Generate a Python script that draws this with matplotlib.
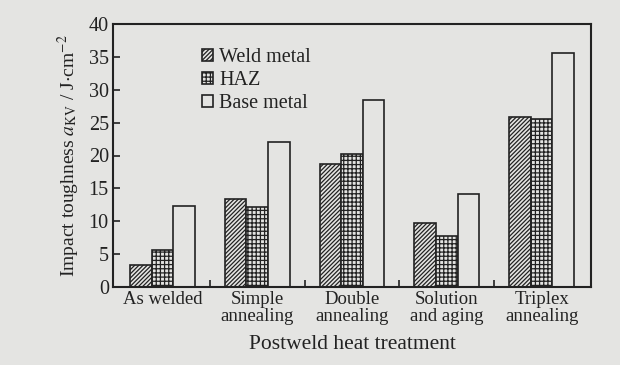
import matplotlib
matplotlib.use("Agg")
import matplotlib.pyplot as plt
import numpy as np

treatments = ["As welded", "Simple\nannealing", "Double\nannealing",
              "Solution\nand aging", "Triplex\nannealing"]
weld_metal = [3.3, 13.4, 18.7, 9.7, 25.9]
haz = [5.7, 12.2, 20.3, 7.8, 25.5]
base_metal = [12.3, 22.1, 28.4, 14.2, 35.6]

plt.rcParams['font.family'] = ['Liberation Serif', 'DejaVu Serif']
plt.rcParams['hatch.linewidth'] = 0.9
plt.rcParams['mathtext.fontset'] = 'stix'

bg = '#e4e4e2'
ink = '#222222'

fig = plt.figure(figsize=(6.2, 3.65), dpi=100, facecolor=bg)
ax = fig.add_axes([113/620, 1-287/365, (591-113)/620, (287-24)/365])
ax.set_facecolor(bg)

x = np.arange(len(treatments))
w = 0.228
ax.bar(x - w, weld_metal, w, facecolor=bg, edgecolor=ink, hatch='////////', lw=1.2, label='Weld metal')
ax.bar(x, haz, w, facecolor=bg, edgecolor=ink, hatch='++++', lw=1.2, label='HAZ')
ax.bar(x + w, base_metal, w, facecolor=bg, edgecolor=ink, lw=1.2, label='Base metal')

ax.set_xlim(-0.52, 4.52)
ax.set_ylim(0, 40)
ax.set_yticks(np.arange(0, 41, 5))
ax.set_xticks(x)
ax.set_xticklabels(treatments, fontsize=13.5, linespacing=1.0)
ax.tick_params(axis='x', length=0, pad=3, colors=ink)
ax.set_xticks(x[:-1] + 0.5, minor=True)
ax.tick_params(axis='x', which='minor', direction='in', length=5, width=1.2, color=ink)
ax.tick_params(axis='y', direction='in', length=5, width=1.2, labelsize=14.5, colors=ink, pad=3)
for s in ax.spines.values():
    s.set_linewidth(1.5)
    s.set_color(ink)

ax.set_ylabel(r'Impact toughness $a_{\mathrm{KV}}$ / J$\cdot$cm$^{-2}$', fontsize=14, color=ink, labelpad=5)
ax.set_xlabel('Postweld heat treatment', fontsize=15.5, color=ink, labelpad=7)

leg = ax.legend(loc='upper left', bbox_to_anchor=(0.17, 0.94), frameon=False, fontsize=14.5,
                handlelength=0.55, handleheight=0.55, handletextpad=0.3, labelspacing=0.2,
                borderaxespad=0)
for t in leg.get_texts():
    t.set_color(ink)

fig.savefig('out.png', dpi=100, facecolor=bg)
